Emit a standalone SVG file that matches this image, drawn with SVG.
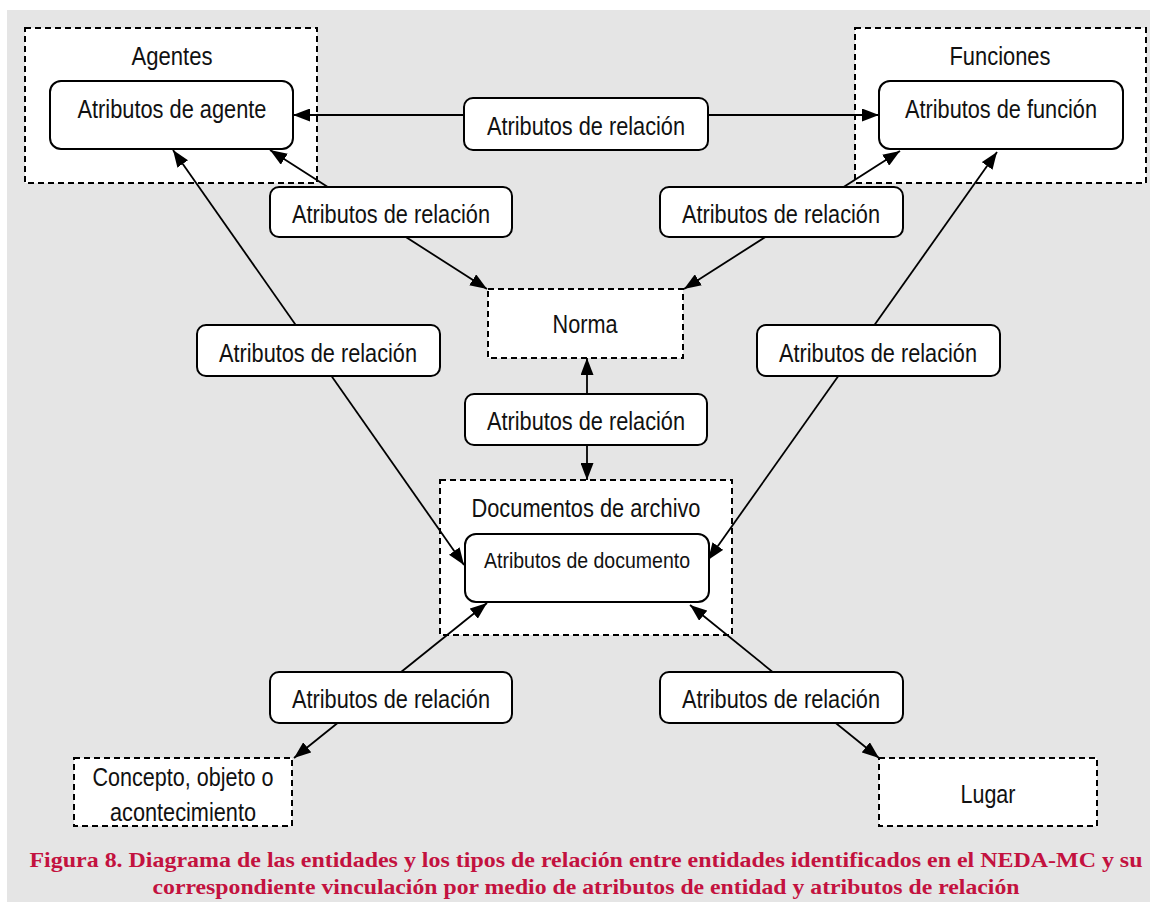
<svg xmlns="http://www.w3.org/2000/svg" width="1153" height="902" viewBox="0 0 1153 902">
  <style>
    .ent { fill: #ffffff; stroke: #000000; stroke-width: 2; stroke-dasharray: 6 4; }
    .attr { fill: #ffffff; stroke: #000000; stroke-width: 2; }
    .lbl { font-family: "Liberation Sans", Arial, sans-serif; font-size: 25px; fill: #111111; text-anchor: middle; }
    .small { font-size: 22px; }
    .edge { stroke: #000000; stroke-width: 1.8; fill: none; marker-start: url(#head); marker-end: url(#head); }
    .cap { font-family: "Liberation Serif", "Times New Roman", serif; font-weight: bold; font-size: 21px; fill: #c3123f; text-anchor: middle; }
  </style>
  <defs>
    <marker id="head" viewBox="0 0 17 13" refX="17" refY="6.5" markerWidth="17" markerHeight="13" markerUnits="userSpaceOnUse" orient="auto-start-reverse">
      <path d="M0,0 L17,6.5 L0,13 Z" fill="#000000"/>
    </marker>
  </defs>

  <!-- page background -->
  <rect x="0" y="0" width="1153" height="902" fill="#ffffff"/>
  <rect x="7" y="10" width="1143" height="892" fill="#e5e5e5"/>

  <!-- entity containers -->
  <g id="agentes">
    <rect class="ent" x="25" y="28" width="292" height="155"/>
    <text class="lbl" x="172" y="65" textLength="81" lengthAdjust="spacingAndGlyphs">Agentes</text>
  </g>
  <g id="funciones">
    <rect class="ent" x="855" y="28" width="291" height="155"/>
    <text class="lbl" x="1000" y="65" textLength="101" lengthAdjust="spacingAndGlyphs">Funciones</text>
  </g>
  <g id="norma">
    <rect class="ent" x="488" y="289" width="195" height="69"/>
    <text class="lbl" x="585" y="333" textLength="65" lengthAdjust="spacingAndGlyphs">Norma</text>
  </g>
  <g id="documentos">
    <rect class="ent" x="440" y="480" width="292" height="155"/>
    <text class="lbl" x="586" y="517" textLength="229" lengthAdjust="spacingAndGlyphs">Documentos de archivo</text>
  </g>
  <g id="concepto">
    <rect class="ent" x="74" y="758" width="218" height="68"/>
    <text class="lbl" x="183" y="786" textLength="181" lengthAdjust="spacingAndGlyphs">Concepto, objeto o</text>
    <text class="lbl" x="183" y="821" textLength="146" lengthAdjust="spacingAndGlyphs">acontecimiento</text>
  </g>
  <g id="lugar">
    <rect class="ent" x="879" y="758" width="218" height="68"/>
    <text class="lbl" x="988" y="803" textLength="55" lengthAdjust="spacingAndGlyphs">Lugar</text>
  </g>

  <!-- connectors -->
  <g id="connectors">
    <line class="edge" x1="293" y1="115" x2="879" y2="115"/>
    <line class="edge" x1="270" y1="150" x2="487" y2="289"/>
    <line class="edge" x1="900" y1="151" x2="684" y2="289"/>
    <line class="edge" x1="173" y1="150" x2="464" y2="565"/>
    <line class="edge" x1="997" y1="152" x2="708" y2="560"/>
    <line class="edge" x1="587" y1="358" x2="587" y2="480"/>
    <line class="edge" x1="487" y1="603" x2="294" y2="758"/>
    <line class="edge" x1="690" y1="605" x2="879" y2="758"/>
  </g>

  <!-- entity attribute boxes -->
  <g id="attr-agente">
    <rect class="attr" x="50" y="81" width="243" height="68" rx="11"/>
    <text class="lbl" x="172" y="118" textLength="189" lengthAdjust="spacingAndGlyphs">Atributos de agente</text>
  </g>
  <g id="attr-funcion">
    <rect class="attr" x="879" y="81" width="244" height="68" rx="11"/>
    <text class="lbl" x="1001" y="118" textLength="192" lengthAdjust="spacingAndGlyphs">Atributos de función</text>
  </g>
  <g id="attr-documento">
    <rect class="attr" x="465" y="534" width="244" height="68" rx="11"/>
    <text class="lbl small" x="587" y="568" textLength="206" lengthAdjust="spacingAndGlyphs">Atributos de documento</text>
  </g>

  <!-- relation attribute boxes -->
  <g id="rel-agente-funcion">
    <rect class="attr" x="464" y="98" width="244" height="52" rx="9"/>
    <text class="lbl" x="586" y="135" textLength="198" lengthAdjust="spacingAndGlyphs">Atributos de relación</text>
  </g>
  <g id="rel-agente-norma">
    <rect class="attr" x="270" y="187" width="242" height="50" rx="9"/>
    <text class="lbl" x="391" y="223" textLength="198" lengthAdjust="spacingAndGlyphs">Atributos de relación</text>
  </g>
  <g id="rel-funcion-norma">
    <rect class="attr" x="660" y="187" width="243" height="50" rx="9"/>
    <text class="lbl" x="781" y="223" textLength="198" lengthAdjust="spacingAndGlyphs">Atributos de relación</text>
  </g>
  <g id="rel-agente-documento">
    <rect class="attr" x="197" y="325" width="243" height="51" rx="9"/>
    <text class="lbl" x="318" y="362" textLength="198" lengthAdjust="spacingAndGlyphs">Atributos de relación</text>
  </g>
  <g id="rel-funcion-documento">
    <rect class="attr" x="757" y="325" width="243" height="51" rx="9"/>
    <text class="lbl" x="878" y="362" textLength="198" lengthAdjust="spacingAndGlyphs">Atributos de relación</text>
  </g>
  <g id="rel-norma-documento">
    <rect class="attr" x="465" y="394" width="242" height="51" rx="9"/>
    <text class="lbl" x="586" y="430" textLength="198" lengthAdjust="spacingAndGlyphs">Atributos de relación</text>
  </g>
  <g id="rel-documento-concepto">
    <rect class="attr" x="270" y="672" width="242" height="51" rx="9"/>
    <text class="lbl" x="391" y="708" textLength="198" lengthAdjust="spacingAndGlyphs">Atributos de relación</text>
  </g>
  <g id="rel-documento-lugar">
    <rect class="attr" x="660" y="672" width="243" height="51" rx="9"/>
    <text class="lbl" x="781" y="708" textLength="198" lengthAdjust="spacingAndGlyphs">Atributos de relación</text>
  </g>

  <!-- caption -->
  <g id="caption">
    <text class="cap" x="586" y="867" textLength="1113" lengthAdjust="spacingAndGlyphs">Figura 8. Diagrama de las entidades y los tipos de relación entre entidades identificados en el NEDA-MC y su</text>
    <text class="cap" x="586" y="894" textLength="867" lengthAdjust="spacingAndGlyphs">correspondiente vinculación por medio de atributos de entidad y atributos de relación</text>
  </g>
</svg>
